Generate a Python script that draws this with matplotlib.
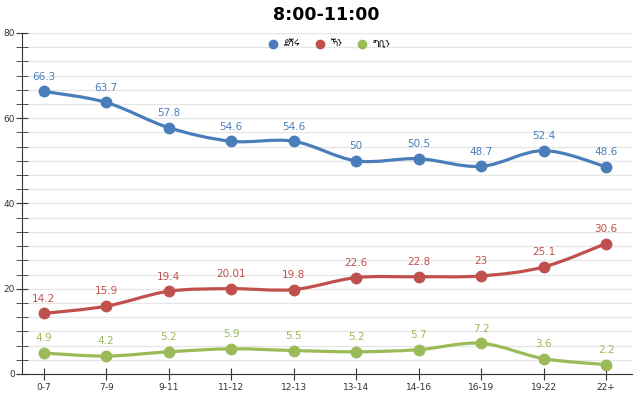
import matplotlib
matplotlib.use("Agg")
import matplotlib.pyplot as plt
from matplotlib.path import Path
from matplotlib.patches import PathPatch
from matplotlib.ticker import MultipleLocator
from matplotlib.lines import Line2D

plt.rcParams['font.family'] = ['DejaVu Sans', 'Noto Sans Ethiopic']

title = "8:00-11:00"
groups = ["0-7", "7-9", "9-11", "11-12", "12-13", "13-14", "14-16", "16-19", "19-22", "22+"]
names = ["ደሻሩ", "ኻን", "ግቢን"]
blue = [66.3, 63.7, 57.8, 54.6, 54.6, 50, 50.5, 48.7, 52.4, 48.6]
red = [14.2, 15.9, 19.4, 20.01, 19.8, 22.6, 22.8, 23, 25.1, 30.6]
green = [4.9, 4.2, 5.2, 5.9, 5.5, 5.2, 5.7, 7.2, 3.6, 2.2]
colors = ["#4a7ebb", "#c0504d", "#9bbb59"]


def spline_path(xs, ys, t=1.0):
    # cubic bezier through the points (catmull-rom style)
    verts = [(xs[0], ys[0])]
    codes = [Path.MOVETO]
    n = len(xs)
    for i in range(n - 1):
        x0, y0 = (xs[i - 1], ys[i - 1]) if i > 0 else (xs[i], ys[i])
        x1, y1 = xs[i], ys[i]
        x2, y2 = xs[i + 1], ys[i + 1]
        x3, y3 = (xs[i + 2], ys[i + 2]) if i + 2 < n else (x2, y2)
        c1 = (x1 + (x2 - x0) / 6 * t, y1 + (y2 - y0) / 6 * t)
        c2 = (x2 - (x3 - x1) / 6 * t, y2 - (y3 - y1) / 6 * t)
        verts += [c1, c2, (x2, y2)]
        codes += [Path.CURVE4] * 3
    return Path(verts, codes)


fig = plt.figure(figsize=(6.4, 3.97), dpi=100)
ax = fig.add_axes([0.035, 0.058, 0.953, 0.859])

x = list(range(len(groups)))
for vals, c in zip([blue, red, green], colors):
    ax.add_patch(PathPatch(spline_path(x, vals), facecolor="none", edgecolor=c, lw=2.3, zorder=3))
    ax.plot(x, vals, "o", color=c, ms=7.5, zorder=4)
    for xi, v in zip(x, vals):
        ax.annotate(f"{v:g}", (xi, v), xytext=(0, 7), textcoords="offset points",
                    ha="center", va="bottom", color=c, fontsize=7.5)

ax.set_xlim(-0.34, 9.42)
ax.set_ylim(0, 80)
ax.set_xticks(x)
ax.set_xticklabels(groups)
ax.yaxis.set_major_locator(MultipleLocator(20))
ax.yaxis.set_minor_locator(MultipleLocator(20 / 6))
ax.grid(axis="y", which="both", color="#e6e6e6", lw=0.9)
ax.set_axisbelow(True)
for s in ["top", "right"]:
    ax.spines[s].set_visible(False)
ax.spines["left"].set_color("#333333")
ax.spines["bottom"].set_color("#333333")
ax.tick_params(axis="both", which="both", direction="inout", color="#333333", labelsize=6.5, labelcolor="#333333")
ax.tick_params(axis="y", which="both", length=9, pad=1)
ax.tick_params(axis="x", length=9, pad=2)

handles = [Line2D([], [], marker="o", ls="none", color=c, ms=6) for c in colors]
ax.legend(handles, names, loc="upper center", bbox_to_anchor=(0.5, 0.995), ncol=3, frameon=False,
          fontsize=6.5, handletextpad=0.2, columnspacing=1.2, borderaxespad=0.2)

fig.text(0.51, 0.962, title, ha="center", va="center", fontsize=12.5, fontweight="bold")

fig.savefig("out.png", dpi=100, facecolor="white")
